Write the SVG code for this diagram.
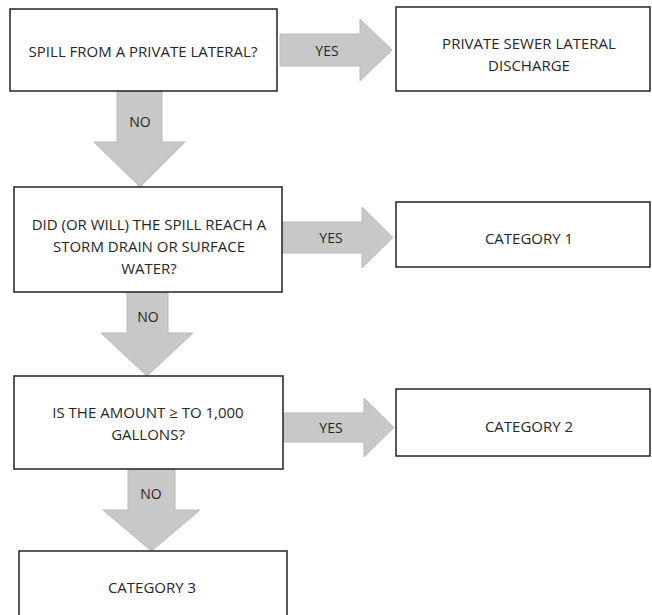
<svg xmlns="http://www.w3.org/2000/svg" width="652" height="615" viewBox="0 0 652 615">
<style>
.box{fill:#fff;stroke:#222;stroke-width:1.5}
.arr{fill:#c8c8c8;stroke:#b9b9b9;stroke-width:1}
.t{font-family:"Open Sans","Noto Sans","Liberation Sans",sans-serif;font-size:15px;fill:#262626;text-anchor:middle}
.l{font-family:"Open Sans","Noto Sans","Liberation Sans",sans-serif;font-size:14px;fill:#262626;text-anchor:middle}
</style>
<rect width="652" height="615" fill="#fff"/>
<g id="connectors">
<g id="yes1"><path class="arr" d="M280,34 H360 V19 L392,50 L360,81 V66 H280 Z"/><text class="l" x="327" y="56">YES</text></g>
<g id="no1"><path class="arr" d="M117,91 H162 V142 H185 L140,187 L94,142 H117 Z"/><text class="l" x="140" y="127">NO</text></g>
<g id="yes2"><path class="arr" d="M283,222 H362 V207 L393,237.5 L362,268 V253 H283 Z"/><text class="l" x="331" y="243">YES</text></g>
<g id="no2"><path class="arr" d="M127,292 H168 V333 H193 L147,376 L101,333 H127 Z"/><text class="l" x="148" y="322">NO</text></g>
<g id="yes3"><path class="arr" d="M283,413 H364 V398 L394,427.5 L364,457 V442 H283 Z"/><text class="l" x="331" y="433">YES</text></g>
<g id="no3"><path class="arr" d="M128,469 H175 V510 H200 L151.5,551 L103,510 H128 Z"/><text class="l" x="151" y="499">NO</text></g>
</g>
<g id="q1"><rect class="box" x="10" y="9" width="267" height="82"/><text class="t" x="143" y="57">SPILL FROM A PRIVATE LATERAL?</text></g>
<g id="private"><rect class="box" x="396" y="7" width="254" height="84"/><text class="t" x="529" y="49">PRIVATE SEWER LATERAL</text><text class="t" x="529" y="71">DISCHARGE</text></g>
<g id="q2"><rect class="box" x="14" y="187" width="268" height="105"/><text class="t" x="149" y="230">DID (OR WILL) THE SPILL REACH A</text><text class="t" x="149" y="252">STORM DRAIN OR SURFACE</text><text class="t" x="149" y="274">WATER?</text></g>
<g id="cat1"><rect class="box" x="396" y="202" width="254" height="65"/><text class="t" x="529" y="244">CATEGORY 1</text></g>
<g id="q3"><rect class="box" x="14" y="376" width="269" height="93"/><text class="t" x="148" y="418">IS THE AMOUNT ≥ TO 1,000</text><text class="t" x="148" y="440">GALLONS?</text></g>
<g id="cat2"><rect class="box" x="396" y="389" width="254" height="67"/><text class="t" x="529" y="432">CATEGORY 2</text></g>
<g id="cat3"><rect class="box" x="19" y="551" width="268" height="75"/><text class="t" x="152" y="593">CATEGORY 3</text></g>
</svg>
